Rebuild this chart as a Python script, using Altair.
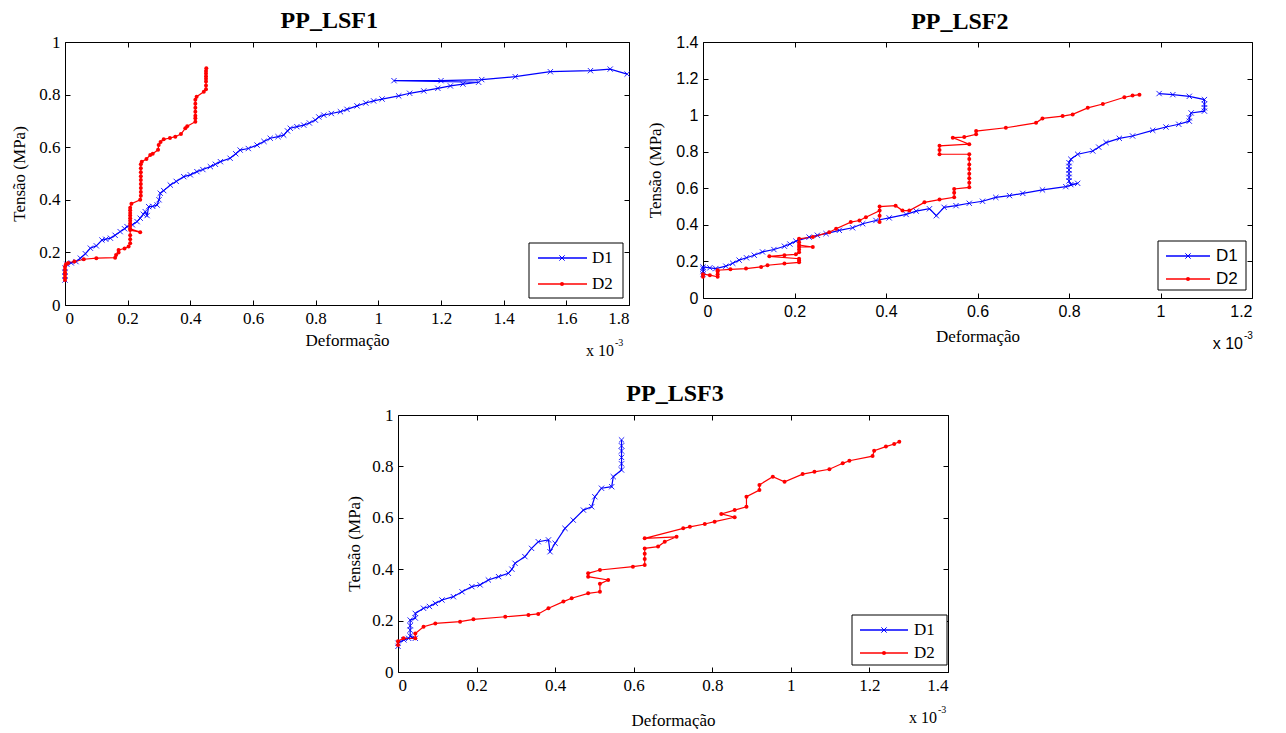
import altair as alt
import pandas as pd

SERIF = "Liberation Serif"
SANS = "Liberation Sans"
BLUE = "#0000ff"
RED = "#ff0000"
XPATH = "M-1,-1L1,1M-1,1L1,-1"

# ---------------- data (strain in 1e-3, stress in MPa) ----------------
p1_d1_x = [0, 0, 0, 0, 0.006, 0.02, 0.035, 0.049, 0.065, 0.081, 0.10, 0.118, 0.13, 0.145, 0.16, 0.176, 0.19, 0.198,
           0.215, 0.23, 0.24, 0.25, 0.256, 0.262, 0.267, 0.28, 0.294, 0.30, 0.304, 0.315, 0.336, 0.355, 0.379, 0.40,
           0.421, 0.44, 0.464, 0.48, 0.496, 0.527, 0.545, 0.559, 0.585, 0.613, 0.635, 0.655, 0.68, 0.698, 0.71, 0.719,
           0.74, 0.762, 0.78, 0.799, 0.81, 0.826, 0.85, 0.879, 0.90, 0.932, 0.96, 0.985, 1.012, 1.065, 1.10, 1.145,
           1.19, 1.23, 1.27, 1.32, 1.05, 1.20, 1.33, 1.437, 1.549, 1.677, 1.74, 1.794]
p1_d1_y = [0.095, 0.11, 0.125, 0.14, 0.155, 0.16, 0.165, 0.178, 0.195, 0.216, 0.225, 0.247, 0.25, 0.254, 0.265, 0.279,
           0.29, 0.298, 0.305, 0.317, 0.33, 0.345, 0.355, 0.34, 0.374, 0.375, 0.38, 0.40, 0.425, 0.435, 0.456, 0.47,
           0.488, 0.495, 0.507, 0.515, 0.526, 0.535, 0.545, 0.558, 0.575, 0.589, 0.595, 0.608, 0.622, 0.634, 0.64,
           0.646, 0.662, 0.672, 0.678, 0.684, 0.692, 0.703, 0.715, 0.722, 0.728, 0.735, 0.744, 0.757, 0.768, 0.776,
           0.783, 0.795, 0.805, 0.814, 0.824, 0.833, 0.84, 0.847, 0.853, 0.853, 0.857, 0.868, 0.887, 0.891, 0.897, 0.878]

p1_d2_x = [0, 0, 0, 0, 0, 0, 0.003, 0.01, 0.03, 0.06, 0.10, 0.16, 0.163, 0.171, 0.171, 0.19, 0.203, 0.208, 0.208,
           0.208, 0.208, 0.24, 0.208, 0.208, 0.208, 0.208, 0.208, 0.208, 0.208, 0.208, 0.208, 0.212, 0.24, 0.242,
           0.242, 0.242, 0.242, 0.242, 0.242, 0.242, 0.242, 0.242, 0.245, 0.26, 0.272, 0.28, 0.297, 0.299, 0.305,
           0.315, 0.335, 0.352, 0.37, 0.384, 0.39, 0.416, 0.416, 0.416, 0.416, 0.416, 0.416, 0.416, 0.42, 0.443,
           0.45, 0.45, 0.45, 0.45, 0.45, 0.45, 0.45, 0.451]
p1_d2_y = [0.095, 0.105, 0.115, 0.125, 0.135, 0.145, 0.155, 0.16, 0.165, 0.174, 0.178, 0.18, 0.19, 0.20, 0.209,
           0.215, 0.222, 0.235, 0.25, 0.265, 0.285, 0.277, 0.29, 0.30, 0.31, 0.32, 0.33, 0.34, 0.35, 0.36, 0.37,
           0.385, 0.40, 0.415, 0.43, 0.445, 0.46, 0.475, 0.49, 0.505, 0.52, 0.535, 0.545, 0.555, 0.57, 0.575, 0.59,
           0.608, 0.62, 0.63, 0.635, 0.64, 0.65, 0.672, 0.68, 0.697, 0.71, 0.72, 0.735, 0.75, 0.765, 0.78, 0.792,
           0.811, 0.82, 0.835, 0.85, 0.86, 0.87, 0.88, 0.89, 0.90]

p2_d1_x = [0, 0, 0, 0, 0.015, 0.028, 0.05, 0.065, 0.079, 0.095, 0.112, 0.13, 0.155, 0.178, 0.19, 0.203, 0.232, 0.25,
           0.269, 0.298, 0.327, 0.349, 0.378, 0.407, 0.444, 0.466, 0.495, 0.51, 0.527, 0.553, 0.582, 0.611, 0.64,
           0.67, 0.699, 0.742, 0.793, 0.819, 0.804, 0.80, 0.80, 0.80, 0.80, 0.80, 0.80, 0.804, 0.819, 0.852, 0.865,
           0.881, 0.91, 0.939, 0.983, 1.012, 1.04, 1.063, 1.063, 1.067, 1.096, 1.096, 1.096, 1.096, 1.063, 1.027, 0.997]
p2_d1_y = [0.13, 0.145, 0.16, 0.17, 0.165, 0.161, 0.174, 0.19, 0.207, 0.22, 0.234, 0.252, 0.265, 0.283, 0.295, 0.311,
           0.333, 0.343, 0.352, 0.37, 0.384, 0.406, 0.424, 0.438, 0.457, 0.475, 0.488, 0.45, 0.496, 0.505, 0.518,
           0.529, 0.55, 0.56, 0.572, 0.591, 0.609, 0.627, 0.62, 0.64, 0.66, 0.68, 0.70, 0.72, 0.74, 0.759, 0.786,
           0.804, 0.825, 0.85, 0.873, 0.886, 0.917, 0.935, 0.95, 0.967, 0.985, 1.012, 1.022, 1.04, 1.06, 1.085,
           1.103, 1.112, 1.118]

p2_d2_x = [0, 0, 0.015, 0.032, 0.032, 0.032, 0.032, 0.06, 0.094, 0.127, 0.141, 0.178, 0.21, 0.21, 0.21, 0.145, 0.178,
           0.203, 0.21, 0.21, 0.21, 0.24, 0.21, 0.21, 0.21, 0.24, 0.276, 0.291, 0.323, 0.342, 0.356, 0.386, 0.386,
           0.386, 0.386, 0.421, 0.436, 0.451, 0.484, 0.517, 0.549, 0.549, 0.549, 0.582, 0.582, 0.582, 0.582, 0.582,
           0.582, 0.582, 0.582, 0.517, 0.517, 0.517, 0.582, 0.546, 0.571, 0.597, 0.597, 0.662, 0.728, 0.742, 0.786,
           0.808, 0.841, 0.874, 0.921, 0.939, 0.954]
p2_d2_y = [0.116, 0.13, 0.125, 0.116, 0.13, 0.145, 0.152, 0.157, 0.161, 0.17, 0.179, 0.188, 0.195, 0.205, 0.215,
           0.228, 0.234, 0.239, 0.25, 0.265, 0.279, 0.279, 0.29, 0.305, 0.324, 0.333, 0.36, 0.379, 0.415, 0.424,
           0.442, 0.478, 0.415, 0.45, 0.50, 0.505, 0.478, 0.478, 0.523, 0.538, 0.551, 0.575, 0.596, 0.605, 0.63,
           0.655, 0.68, 0.705, 0.73, 0.76, 0.786, 0.786, 0.81, 0.832, 0.841, 0.877, 0.88, 0.895, 0.913, 0.931,
           0.958, 0.982, 0.995, 1.004, 1.04, 1.061, 1.098, 1.107, 1.112]

p3_d1_x = [0, 0, 0.015, 0.027, 0.044, 0.031, 0.031, 0.031, 0.031, 0.044, 0.044, 0.065, 0.08, 0.095, 0.112, 0.141,
           0.163, 0.188, 0.209, 0.23, 0.256, 0.281, 0.29, 0.298, 0.323, 0.34, 0.357, 0.383, 0.387, 0.40, 0.425, 0.446,
           0.472, 0.493, 0.501, 0.518, 0.544, 0.548, 0.569, 0.569, 0.569, 0.569, 0.569, 0.569]
p3_d1_y = [0.10, 0.112, 0.125, 0.131, 0.131, 0.14, 0.163, 0.18, 0.202, 0.21, 0.228, 0.248, 0.255, 0.267, 0.28, 0.293,
           0.312, 0.332, 0.339, 0.358, 0.371, 0.384, 0.40, 0.423, 0.449, 0.481, 0.507, 0.514, 0.468, 0.501, 0.559,
           0.591, 0.63, 0.643, 0.682, 0.715, 0.721, 0.76, 0.786, 0.81, 0.835, 0.86, 0.88, 0.903]

p3_d2_x = [0, 0, 0.014, 0.044, 0.044, 0.065, 0.095, 0.158, 0.192, 0.273, 0.332, 0.357, 0.383, 0.421, 0.442, 0.484,
           0.514, 0.514, 0.535, 0.484, 0.484, 0.514, 0.598, 0.628, 0.628, 0.628, 0.628, 0.662, 0.679, 0.709, 0.628,
           0.726, 0.743, 0.781, 0.806, 0.857, 0.823, 0.857, 0.887, 0.887, 0.92, 0.92, 0.954, 0.984, 1.03, 1.06,
           1.098, 1.132, 1.149, 1.208, 1.212, 1.242, 1.263, 1.276]
p3_d2_y = [0.105, 0.12, 0.131, 0.131, 0.15, 0.176, 0.189, 0.196, 0.205, 0.215, 0.222, 0.226, 0.248, 0.274, 0.287,
           0.306, 0.312, 0.343, 0.358, 0.371, 0.384, 0.397, 0.41, 0.416, 0.44, 0.46, 0.481, 0.488, 0.507, 0.526,
           0.52, 0.559, 0.565, 0.576, 0.585, 0.602, 0.615, 0.63, 0.643, 0.682, 0.708, 0.728, 0.76, 0.74, 0.77,
           0.779, 0.789, 0.812, 0.822, 0.84, 0.861, 0.877, 0.887, 0.896]

series_names = ["D1", "D2"]
x_title = "Deformação"
y_title = "Tensão (MPa)"
titles = ["PP_LSF1", "PP_LSF2", "PP_LSF3"]
p1_xticks = [0, 0.2, 0.4, 0.6, 0.8, 1, 1.2, 1.4, 1.6, 1.8]
p1_yticks = [0, 0.2, 0.4, 0.6, 0.8, 1]
p2_xticks = [0, 0.2, 0.4, 0.6, 0.8, 1, 1.2]
p2_yticks = [0, 0.2, 0.4, 0.6, 0.8, 1, 1.2, 1.4]
p3_xticks = [0, 0.2, 0.4, 0.6, 0.8, 1, 1.2, 1.4]
p3_yticks = [0, 0.2, 0.4, 0.6, 0.8, 1]


def make_df(d1x, d1y, d2x, d2y):
    rows = []
    for name, xs, ys in (("D1", d1x, d1y), ("D2", d2x, d2y)):
        for i, (xv, yv) in enumerate(zip(xs, ys)):
            rows.append({"series": name, "i": i, "x": xv, "y": yv})
    return pd.DataFrame(rows)


ONE = pd.DataFrame({"k": [0]})


def panel(title, frame, tdx, d1x, d1y, d2x, d2y, xmax, ymax, xticks, yticks, w, h,
          lab_font, lab_size, xtpad, ytpad, leg, exp_right):
    df = make_df(d1x, d1y, d2x, d2y)
    xs = alt.Scale(domain=[0, xmax], nice=False, zero=False)
    ys = alt.Scale(domain=[0, ymax], nice=False, zero=False)
    color = alt.Color("series:N", scale=alt.Scale(domain=series_names, range=[BLUE, RED]), legend=None)
    common = dict(format="~g", grid=False, domain=False, tickColor="black", tickSize=5, offset=-5,
                  labelColor="black", labelFont=lab_font, labelFontSize=lab_size, labelPadding=5,
                  titleFont=SERIF, titleFontSize=17, titleFontWeight="normal", titleColor="black")
    lines = alt.Chart(df).mark_line(strokeWidth=1.2).encode(
        x=alt.X("x:Q", scale=xs, axis=alt.Axis(values=xticks, title=x_title, orient="bottom",
                                               titlePadding=xtpad, **common)),
        y=alt.Y("y:Q", scale=ys, axis=alt.Axis(values=yticks, title=y_title, orient="left",
                                               titlePadding=ytpad, **common)),
        color=color,
        order=alt.Order("i:Q"),
    )
    mirror = dict(grid=False, domain=False, tickColor="black", tickSize=5, offset=-5, labels=False, title=None)
    pts1 = alt.Chart(df).transform_filter(alt.datum.series == "D1").mark_point(
        shape=XPATH, filled=False, size=28, strokeWidth=1, color=BLUE, opacity=0.85).encode(
        x=alt.X("x:Q", scale=xs, axis=alt.Axis(values=xticks, orient="top", **mirror)),
        y=alt.Y("y:Q", scale=ys, axis=alt.Axis(values=yticks, orient="right", **mirror)),
    )
    pts2 = alt.Chart(df).transform_filter(alt.datum.series == "D2").mark_circle(
        size=16, color=RED, opacity=1).encode(
        x=alt.X("x:Q", scale=xs, axis=None),
        y=alt.Y("y:Q", scale=ys, axis=None),
    )
    # legend box
    bx0, bx1, by0, by1, r1, r2, lx0, lx1, mx, tx = leg
    box = alt.Chart(ONE).mark_rect(fill="white", stroke="black", strokeWidth=1).encode(
        x=alt.value(w + bx0), x2=alt.value(w + bx1), y=alt.value(h + by0), y2=alt.value(h + by1))
    decor = [box]
    for name, col, ry in (("D1", BLUE, r1), ("D2", RED, r2)):
        decor.append(alt.Chart(ONE).mark_rule(color=col, strokeWidth=1.3).encode(
            x=alt.value(w + lx0), x2=alt.value(w + lx1), y=alt.value(h + ry)))
        if name == "D1":
            decor.append(alt.Chart(ONE).mark_point(shape=XPATH, filled=False, size=28, strokeWidth=1,
                                                   color=col, opacity=1).encode(
                x=alt.value(w + mx), y=alt.value(h + ry)))
        else:
            decor.append(alt.Chart(ONE).mark_circle(size=16, color=col, opacity=1).encode(
                x=alt.value(w + mx), y=alt.value(h + ry)))
        decor.append(alt.Chart(ONE).mark_text(text=name, align="left", baseline="middle", font=lab_font,
                                              fontSize=17, color="black").encode(
            x=alt.value(w + tx), y=alt.value(h + ry)))
    decor.append(alt.Chart(ONE).mark_text(text="x 10", align="right", baseline="middle", font=lab_font,
                                          fontSize=16, color="black").encode(
        x=alt.value(w - exp_right), y=alt.value(h + 46)))
    decor.append(alt.Chart(ONE).mark_text(text="-3", align="left", baseline="middle", font=lab_font,
                                          fontSize=10, color="black").encode(
        x=alt.value(w - exp_right + 1), y=alt.value(h + 38)))
    return alt.layer(lines, pts1, pts2, *decor).resolve_axis(x="independent", y="independent").properties(
        width=w, height=h,
        view=alt.ViewBackground(stroke="black", strokeWidth=1),
        title=alt.TitleParams(text=title, font=SERIF, fontSize=24, fontWeight="bold", color="black",
                              anchor="middle", frame=frame, offset=0, dx=tdx),
    )


p1 = panel(titles[0], "bounds", 8, p1_d1_x, p1_d1_y, p1_d2_x, p1_d2_y, 1.8, 1.0, p1_xticks, p1_yticks, 564, 263,
           SERIF, 17, 6, 10, (-100, -6, -62, -7, -47, -21, -91, -42, -67, -37), 15)
p2 = panel(titles[1], "bounds", 10, p2_d1_x, p2_d1_y, p2_d2_x, p2_d2_y, 1.2, 1.4, p2_xticks, p2_yticks, 549, 256,
           SANS, 16, 9, 11, (-94, -6, -57, -8, -42, -19, -86, -42, -64, -36), 9)
p3 = panel(titles[2], "group", 2, p3_d1_x, p3_d1_y, p3_d2_x, p3_d2_y, 1.4, 1.0, p3_xticks, p3_yticks, 550, 257,
           SERIF, 17, 19, 8, (-96, -1, -57, -7, -42, -19, -88, -40, -64, -34), 11)

spacer = alt.Chart(ONE).mark_point(opacity=0).properties(
    width=280, height=10, view=alt.ViewBackground(stroke="transparent", strokeWidth=0))

row1 = alt.hconcat(p1, p2, spacing=13)
row2 = alt.hconcat(spacer, p3, spacing=0)
chart = alt.vconcat(row1, row2, spacing=21).properties(
    padding={"left": 2, "top": 0, "right": 5, "bottom": 0}
).configure(font=SERIF).configure_view(strokeWidth=0)

chart.save("out.html", embed_options={"renderer": "svg", "actions": False})
